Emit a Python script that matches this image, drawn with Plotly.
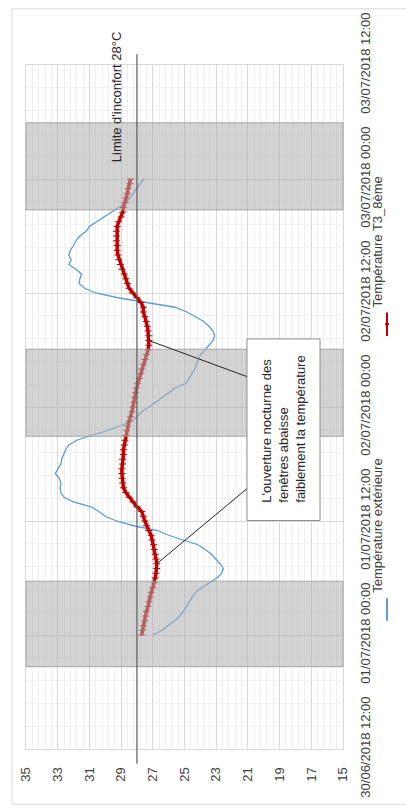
import plotly.graph_objects as go
import pandas as pd

# relevés toutes les 30 min, du 01/07/2018 00:00 au 03/07/2018 00:00
times = pd.date_range("2018-07-01 00:00", "2018-07-03 00:00", freq="30min")

t_exterieure = [
    27.0, 26.4, 26.05, 25.6, 25.3, 25.05, 24.85, 24.7,
    24.5, 24.3, 23.9, 23.45, 22.95, 22.65, 22.55, 22.75,
    23.0, 23.3, 23.7, 24.15, 25.1, 26.0, 26.7, 28.2,
    29.3, 30.0, 30.4, 30.9, 32.0, 32.6, 32.8, 32.85,
    32.8, 32.9, 33.15, 32.95, 32.8, 32.75, 32.65, 32.5,
    32.3, 31.8, 30.9, 29.9, 29.1, 28.3, 28.0, 27.7,
    27.25, 26.8, 26.4, 26.0, 25.6, 24.9, 24.7, 24.55,
    24.35, 24.25, 24.1, 24.0, 23.7, 23.45, 23.2, 23.1,
    23.2, 23.45, 23.8, 24.3, 24.85, 25.6, 27.3, 29.2,
    30.6, 31.3, 31.65, 31.6, 31.5, 31.85, 32.3, 32.15,
    32.3, 32.2, 32.0, 31.85, 31.6, 31.2, 31.0, 30.55,
    30.1, 29.6, 29.2, 28.7, 28.45, 28.25, 28.05, 27.8,
    27.55,
]

t_t3_8eme = [
    27.7, 27.65, 27.6, 27.5, 27.45, 27.4, 27.3, 27.25,
    27.15, 27.1, 27.0, 26.9, 26.85, 26.8, 26.75, 26.75,
    26.8, 26.85, 26.9, 26.95, 27.05, 27.1, 27.25, 27.4,
    27.5, 27.6, 27.7, 28.0, 28.25, 28.5, 28.7, 28.85,
    28.9, 28.95, 28.95, 28.95, 28.9, 28.9, 28.85, 28.85,
    28.8, 28.75, 28.7, 28.65, 28.6, 28.5, 28.4, 28.3,
    28.25, 28.2, 28.15, 28.1, 28.05, 27.95, 27.85, 27.75,
    27.7, 27.6, 27.5, 27.4, 27.3, 27.25, 27.25, 27.25,
    27.3, 27.35, 27.4, 27.5, 27.6, 27.6, 27.75, 28.0,
    28.3, 28.5, 28.6, 28.7, 28.8, 28.95, 29.05, 29.15,
    29.2, 29.25, 29.25, 29.3, 29.3, 29.3, 29.25, 29.15,
    29.0, 28.9, 28.85, 28.75, 28.7, 28.6, 28.55, 28.45,
    28.4,
]

nuits = [
    ("2018-06-30 20:40", "2018-07-01 05:40"),
    ("2018-07-01 20:55", "2018-07-02 06:05"),
    ("2018-07-02 20:45", "2018-07-03 05:55"),
]

limite = 28
temp_ticks = [35, 33, 31, 29, 27, 25, 23, 21, 19, 17, 15]
date_ticks = ["2018-06-30 12:00", "2018-07-01 00:00", "2018-07-01 12:00", "2018-07-02 00:00",
              "2018-07-02 12:00", "2018-07-03 00:00", "2018-07-03 12:00"]
date_labels = ["30/06/2018 12:00", "01/07/2018 00:00", "01/07/2018 12:00", "02/07/2018 00:00",
               "02/07/2018 12:00", "03/07/2018 00:00", "03/07/2018 12:00"]

W, H = 406, 810
L, R, T, B = 26, 63, 59, 57
FONT = "Liberation Sans, Arial, sans-serif"
BLUE = "#5b9bd5"
RED = "#c00000"


# pixel -> paper (the chart is drawn turned a quarter turn)
def px(x):
    return (x - L) / (W - L - R)


def py(y):
    return (H - B - y) / (H - T - B)


fig = go.Figure()
fig.add_trace(go.Scatter(x=t_exterieure, y=times, mode="lines",
                         line=dict(color=BLUE, width=1.3), showlegend=False))
fig.add_trace(go.Scatter(x=t_t3_8eme, y=times, mode="lines+markers",
                         line=dict(color=RED, width=3.5),
                         marker=dict(symbol="line-ew", size=5, line=dict(width=1, color=RED)),
                         showlegend=False))

shapes = []
for d0, d1 in nuits:
    shapes.append(dict(type="rect", xref="paper", yref="y", x0=0, x1=1, y0=d0, y1=d1,
                       fillcolor="rgba(175,175,175,0.55)", line=dict(color="rgba(150,150,150,0.8)", width=1),
                       layer="above"))

# limite d'inconfort
shapes.append(dict(type="line", xref="x", yref="paper", x0=limite, x1=limite,
                   y0=py(768), y1=py(48), line=dict(color="#595959", width=1.2), layer="above"))

# encadré + traits de rappel
box_y0, box_y1 = "2018-07-01 12:03", "2018-07-02 07:10"
shapes.append(dict(type="rect", xref="x", yref="y", x0=21.06, x1=16.45, y0=box_y0, y1=box_y1,
                   fillcolor="white", line=dict(color="#8c8c8c", width=1), layer="above"))
i1, i2 = 15, 62
shapes.append(dict(type="line", xref="x", yref="y", x0=21.06, y0="2018-07-01 15:24",
                   x1=t_t3_8eme[i1], y1=times[i1], line=dict(color="#262626", width=1), layer="above"))
shapes.append(dict(type="line", xref="x", yref="y", x0=21.06, y0="2018-07-02 03:12",
                   x1=t_t3_8eme[i2], y1=times[i2], line=dict(color="#262626", width=1), layer="above"))

# cadre du graphique
shapes.append(dict(type="rect", xref="paper", yref="paper", x0=px(12), x1=px(420), y0=py(809), y1=py(2),
                   line=dict(color="#d9d9d9", width=1), fillcolor="rgba(0,0,0,0)", layer="below"))

# légende
shapes.append(dict(type="line", xref="paper", yref="paper", x0=px(387), x1=px(387), y0=py(623), y1=py(600),
                   line=dict(color=BLUE, width=2)))
shapes.append(dict(type="line", xref="paper", yref="paper", x0=px(387), x1=px(387), y0=py(334), y1=py(310),
                   line=dict(color=RED, width=2)))
shapes.append(dict(type="line", xref="paper", yref="paper", x0=px(385), x1=px(389), y0=py(322), y1=py(322),
                   line=dict(color=RED, width=2)))

annotations = [
    dict(x=29.32, y="2018-07-03 08:37", xref="x", yref="y", text="Limite d'inconfort 28°C",
         textangle=-90, showarrow=False, font=dict(size=13, color="#262626", family=FONT)),
    dict(x=18.75, y="2018-07-01 21:40", xref="x", yref="y",
         text="L'ouverture nocturne des<br>fenêtres abaisse<br>faiblement la température",
         textangle=-90, align="left", showarrow=False, font=dict(size=13, color="#262626", family=FONT)),
    dict(x=px(387), y=py(597), xref="paper", yref="paper", text="Température extérieure",
         textangle=-90, showarrow=False, yanchor="bottom", font=dict(size=13, color="#404040", family=FONT)),
    dict(x=px(387), y=py(307), xref="paper", yref="paper", text="Température T3_8ème",
         textangle=-90, showarrow=False, yanchor="bottom", font=dict(size=13, color="#404040", family=FONT)),
]

fig.update_layout(
    width=W, height=H,
    margin=dict(l=L, r=R, t=T, b=B),
    paper_bgcolor="white", plot_bgcolor="white",
    font=dict(family=FONT, size=13, color="#404040"),
    shapes=shapes, annotations=annotations,
    xaxis=dict(range=[35, 15], tickmode="array", tickvals=temp_ticks, tickangle=-90,
               ticklabelstandoff=12, showgrid=True, gridcolor="#d9d9d9", gridwidth=1,
               minor=dict(dtick=0.4, tick0=15, showgrid=True, gridcolor="#f0f0f0"),
               showline=True, linecolor="#d9d9d9", mirror=True, zeroline=False),
    yaxis=dict(range=[date_ticks[0], date_ticks[-1]], type="date", side="right",
               tickmode="array", tickvals=date_ticks, ticktext=date_labels, tickangle=-90,
               ticklabelstandoff=10, showgrid=True, gridcolor="#d9d9d9", gridwidth=1,
               minor=dict(dtick=8640000, tick0="2018-06-30 12:00", showgrid=True, gridcolor="#f0f0f0"),
               showline=True, linecolor="#d9d9d9", mirror=True, zeroline=False),
)

# the page body has a default 8px margin: remove it so the figure sits at (0, 0)
fig.write_html("out.html", config={"displayModeBar": False},
               post_script="document.body.style.margin='0px';")
